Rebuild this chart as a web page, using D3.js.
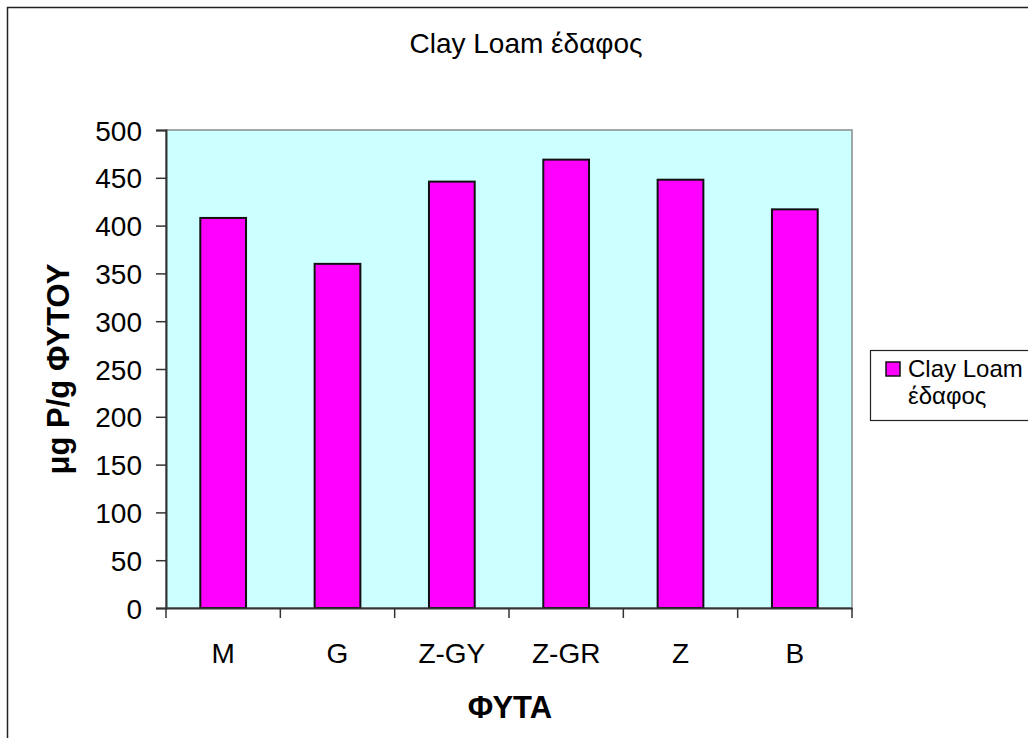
<!DOCTYPE html>
<html>
<head>
<meta charset="utf-8">
<script src="https://cdn.jsdelivr.net/npm/d3@7"></script>
<style>
    body { margin: 0; background: #fff; }
    svg text { font-family: 'Liberation Sans', Arial, sans-serif; fill: #000; }
</style>
</head>
<body>
<svg width="1028" height="738"></svg>
<script>
var categories = [ 'M', 'G', 'Z-GY', 'Z-GR', 'Z', 'B' ],
    values     = [ 408, 360, 446, 469, 448, 417 ],
    yTicks     = [ 0, 50, 100, 150, 200, 250, 300, 350, 400, 450, 500 ],
    seriesName = [ 'Clay Loam', 'έδαφος' ],
    chartTitle = 'Clay Loam έδαφος',
    xTitle     = 'ΦΥΤΑ',
    yTitle     = 'μg P/g ΦΥΤΟΥ';

var svg    = d3.select( 'svg' ),
    plot   = { left : 166, top : 130, right : 852, bottom : 608 },

    xOuter = d3.scaleBand()
        .domain( categories )
        .range( [ plot.left, plot.right ] )
        .padding( 0 ),
    xBar   = d3.scaleBand()
        .domain( categories )
        .range( [ plot.left, plot.right ] )
        .paddingInner( 0.6 )
        .paddingOuter( 0.3 ),
    y      = d3.scaleLinear()
        .domain( [ 0, 500 ] )
        .range( [ plot.bottom, plot.top ] );

// outer chart frame
svg.append( 'rect' )
    .attr( 'x', 7.5 ).attr( 'y', 7.5 )
    .attr( 'width', 1100 ).attr( 'height', 800 )
    .attr( 'fill', 'none' )
    .attr( 'stroke', '#222' )
    .attr( 'stroke-width', 1.5 );

// plot area
svg.append( 'rect' )
    .attr( 'x', plot.left ).attr( 'y', plot.top )
    .attr( 'width', plot.right - plot.left )
    .attr( 'height', plot.bottom - plot.top )
    .attr( 'fill', '#ccffff' )
    .attr( 'stroke', '#8a8a8a' )
    .attr( 'stroke-width', 1.5 );

svg.selectAll( '.bar' )
    .data( values )
    .enter().append( 'rect' )
    .attr( 'class', 'bar' )
    .attr( 'x', function ( d, i ) { return xBar( categories[ i ] ); } )
    .attr( 'y', function ( d ) { return y( d ); } )
    .attr( 'width', xBar.bandwidth() )
    .attr( 'height', function ( d ) { return y( 0 ) - y( d ); } )
    .attr( 'fill', '#ff00ff' )
    .attr( 'stroke', '#111' )
    .attr( 'stroke-width', 2 );

// y axis
var yAxis = svg.append( 'g' )
    .attr( 'transform', 'translate(' + plot.left + ',0)' )
    .call( d3.axisLeft( y ).tickValues( yTicks ).tickSize( 10 ).tickPadding( 14 ) );
yAxis.select( '.domain' ).attr( 'stroke', '#333' ).attr( 'stroke-width', 2 );
yAxis.selectAll( '.tick line' ).attr( 'stroke', '#333' ).attr( 'stroke-width', 1.5 );
yAxis.selectAll( '.tick text' )
    .attr( 'font-size', 28 )
    .attr( 'font-family', "'Liberation Sans', Arial, sans-serif" )
    .attr( 'dy', '0.36em' );

// x axis
var xAxis = svg.append( 'g' )
    .attr( 'transform', 'translate(0,' + plot.bottom + ')' )
    .call( d3.axisBottom( xOuter ).tickSize( 0 ).tickPadding( 35 ) );
xAxis.select( '.domain' ).attr( 'stroke', '#333' ).attr( 'stroke-width', 2 );
xAxis.selectAll( '.tick text' )
    .attr( 'font-size', 28 )
    .attr( 'font-family', "'Liberation Sans', Arial, sans-serif" );

xAxis.selectAll( '.sep' )
    .data( d3.range( categories.length + 1 ) )
    .enter().append( 'line' )
    .attr( 'class', 'sep' )
    .attr( 'x1', function ( i ) { return plot.left + i * xOuter.step(); } )
    .attr( 'x2', function ( i ) { return plot.left + i * xOuter.step(); } )
    .attr( 'y1', 0 ).attr( 'y2', 10 )
    .attr( 'stroke', '#333' ).attr( 'stroke-width', 1.5 );

// titles
svg.append( 'text' )
    .attr( 'x', 526 ).attr( 'y', 53 )
    .attr( 'text-anchor', 'middle' )
    .attr( 'font-size', 28 )
    .text( chartTitle );

svg.append( 'text' )
    .attr( 'x', 510 ).attr( 'y', 718 )
    .attr( 'text-anchor', 'middle' )
    .attr( 'font-size', 31 )
    .attr( 'font-weight', 'bold' )
    .text( xTitle );

svg.append( 'text' )
    .attr( 'transform', 'translate(69,' + ( ( plot.top + plot.bottom ) / 2 ) + ') rotate(-90)' )
    .attr( 'text-anchor', 'middle' )
    .attr( 'font-size', 31 )
    .attr( 'font-weight', 'bold' )
    .text( yTitle );

// legend
var legend = svg.append( 'g' );
legend.append( 'rect' )
    .attr( 'x', 870.5 ).attr( 'y', 350.5 )
    .attr( 'width', 200 ).attr( 'height', 70 )
    .attr( 'fill', '#fff' )
    .attr( 'stroke', '#222' ).attr( 'stroke-width', 1.2 );
legend.append( 'rect' )
    .attr( 'x', 886 ).attr( 'y', 362 )
    .attr( 'width', 14 ).attr( 'height', 14 )
    .attr( 'fill', '#ff00ff' )
    .attr( 'stroke', '#111' ).attr( 'stroke-width', 1.5 );
legend.selectAll( '.ltext' )
    .data( seriesName )
    .enter().append( 'text' )
    .attr( 'class', 'ltext' )
    .attr( 'x', 908 )
    .attr( 'y', function ( d, i ) { return 377 + i * 27; } )
    .attr( 'font-size', 24 )
    .text( function ( d ) { return d; } );
</script>
</body>
</html>
